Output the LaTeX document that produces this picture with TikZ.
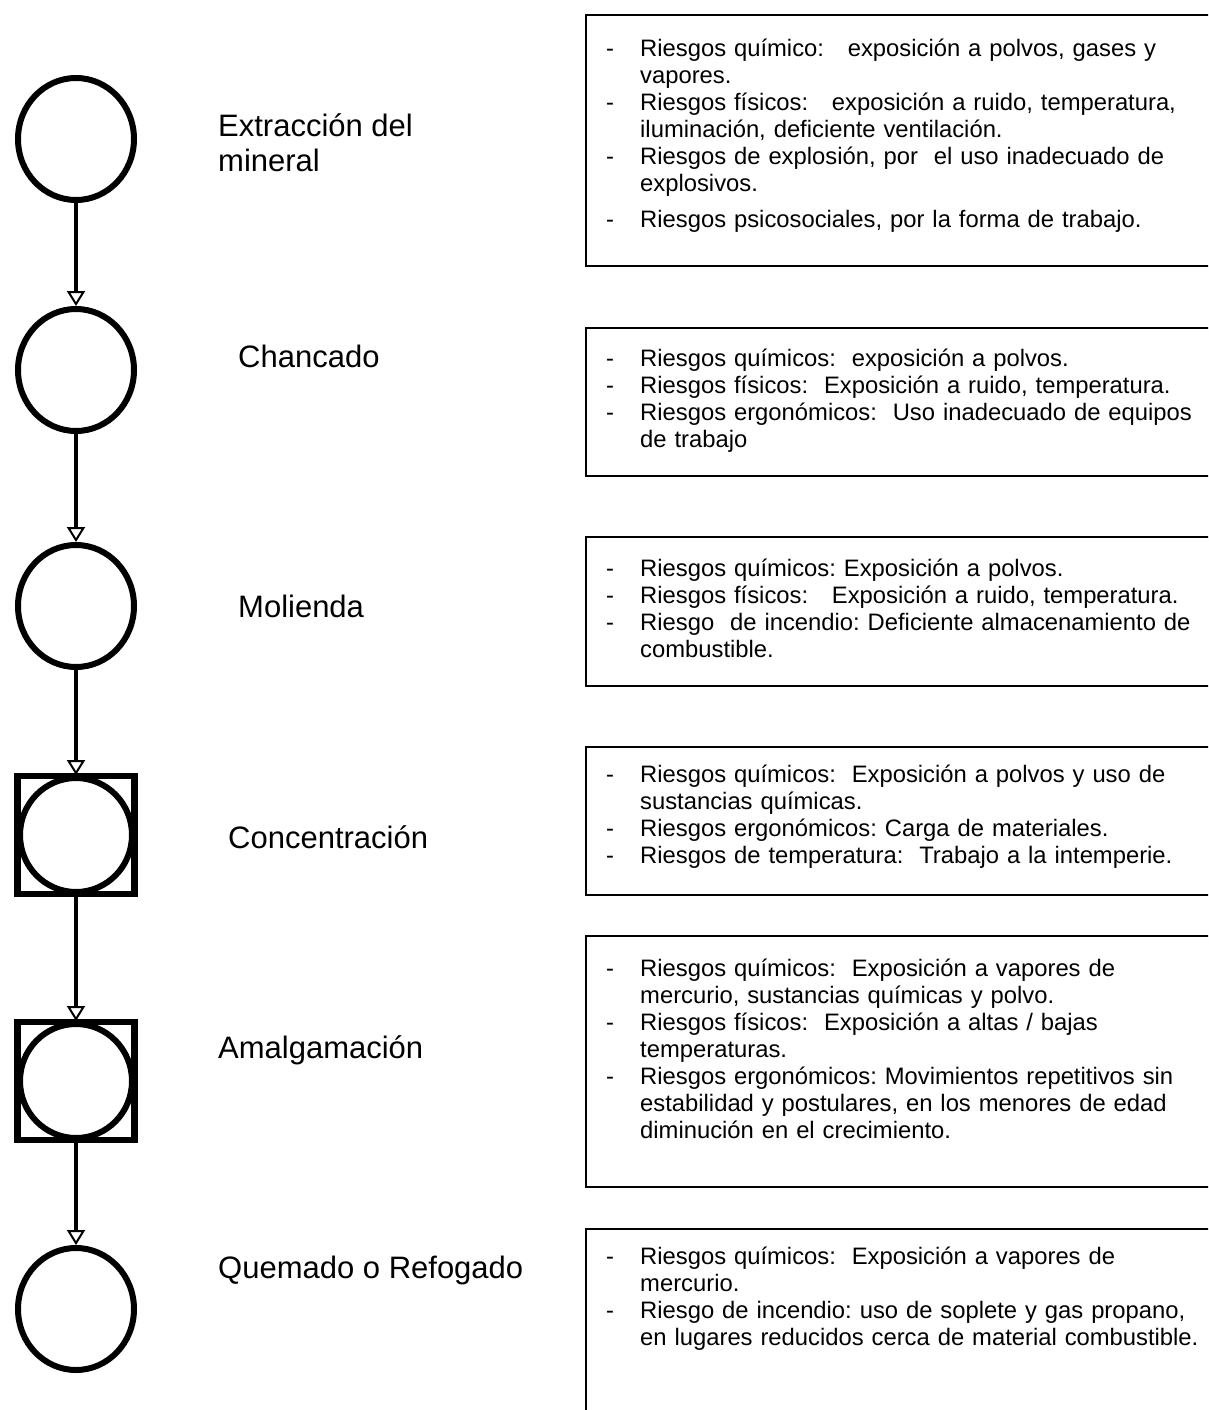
\documentclass[tikz,border=0pt]{standalone}
\usepackage{fontspec}
\setmainfont{Liberation Sans}
\usetikzlibrary{arrows.meta,positioning,shapes.geometric}
% one hanging item with a dash
\newcommand{\riesgo}[1]{\par\hangindent=34pt\hangafter=1\noindent\makebox[34pt][l]{\strut-}#1\par}

\begin{document}
\frenchspacing
\begin{tikzpicture}[x=1pt,y=1pt,
  etapa/.style={draw,ellipse,line width=6pt,minimum width=116pt,minimum height=122pt,inner sep=0pt},
  marco/.style={draw,rectangle,line width=6.5pt,minimum width=117pt,minimum height=118pt,inner sep=0pt},
  flujo/.style={-{Triangle[open,length=15pt,width=18pt,line width=2pt]},line width=4.5pt},
  nombre/.style={font=\fontsize{31}{35}\selectfont,inner sep=0pt,anchor=base west},
  caja/.style={draw,line width=1.8pt,anchor=north west,minimum width=640pt,inner sep=0pt},
  riesgos/.style={font=\fontsize{23.8}{27}\selectfont,text width=620pt,align=left,inner sep=0pt,anchor=north west}]
\path[use as bounding box,clip] (0,0) rectangle (1208,-1410);

% process stages
\node[etapa] (c1) at (76,-139) {};
\node[etapa] (c2) at (76,-370) {};
\node[etapa] (c3) at (76,-606) {};
\node[marco] (q4) at (76,-835) {};
\node[etapa,minimum width=112pt,minimum height=114pt] (c4) at (76,-835) {};
\node[marco] (q5) at (76,-1081) {};
\node[etapa,minimum width=112pt,minimum height=114pt] (c5) at (76,-1081) {};
\node[etapa] (c6) at (76,-1309) {};
\foreach \a/\b in {c1/c2,c2/c3,c3/c4,c4/c5,c5/c6}
  \draw[flujo] (\a) -- (\b);

% stage names
\node[nombre,align=left,anchor=north west] (n1) at (218,-112) {\strut Extracción del\\mineral};
\node[nombre] (n2) at (238,-367) {Chancado};
\node[nombre] (n3) at (238,-617) {Molienda};
\node[nombre] (n4) at (228,-848) {Concentración};
\node[nombre] (n5) at (218,-1058) {Amalgamación};
\node[nombre] (n6) at (218,-1278) {Quemado o Refogado};

% risk boxes
\node[caja,minimum height=251pt] (b1) at (585,-14) {};
\node[caja,minimum height=148pt] (b2) at (585,-327) {};
\node[caja,minimum height=149pt] (b3) at (585,-536) {};
\node[caja,minimum height=148pt] (b4) at (585,-746) {};
\node[caja,minimum height=251pt] (b5) at (585,-935) {};
\node[caja,minimum height=220pt] (b6) at (585,-1228) {};

\node[riesgos] (t1) at (606,-29) {%
  \riesgo{Riesgos químico:~~ exposición a polvos, gases y\newline vapores.}
  \riesgo{Riesgos físicos:~~ exposición a ruido, temperatura,\newline iluminación, deficiente ventilación.}
  \riesgo{Riesgos de explosión, por~ el uso inadecuado de\newline explosivos.}
  \vspace{9pt}
  \riesgo{Riesgos psicosociales, por la forma de trabajo.}};
\node[riesgos] (t2) at (606,-339) {%
  \riesgo{Riesgos químicos:~ exposición a polvos.}
  \riesgo{Riesgos físicos:~ Exposición a ruido, temperatura.}
  \riesgo{Riesgos ergonómicos:~ Uso inadecuado de equipos\newline de trabajo}};
\node[riesgos] (t3) at (606,-549) {%
  \riesgo{Riesgos químicos: Exposición a polvos.}
  \riesgo{Riesgos físicos:~~ Exposición a ruido, temperatura.}
  \riesgo{Riesgo~ de incendio: Deficiente almacenamiento de\newline combustible.}};
\node[riesgos] (t4) at (606,-755) {%
  \riesgo{Riesgos químicos:~ Exposición a polvos y uso de\newline sustancias químicas.}
  \riesgo{Riesgos ergonómicos: Carga de materiales.}
  \riesgo{Riesgos de temperatura:~ Trabajo a la intemperie.}};
\node[riesgos] (t5) at (606,-949) {%
  \riesgo{Riesgos químicos:~ Exposición a vapores de\newline mercurio, sustancias químicas y polvo.}
  \riesgo{Riesgos físicos:~ Exposición a altas / bajas\newline temperaturas.}
  \riesgo{Riesgos ergonómicos: Movimientos repetitivos sin\newline estabilidad y postulares, en los menores de edad\newline diminución en el crecimiento.}};
\node[riesgos] (t6) at (606,-1237) {%
  \riesgo{Riesgos químicos:~ Exposición a vapores de\newline mercurio.}
  \riesgo{Riesgo de incendio: uso de soplete y gas propano,\newline en lugares reducidos cerca de material combustible.}};
\end{tikzpicture}
\end{document}
